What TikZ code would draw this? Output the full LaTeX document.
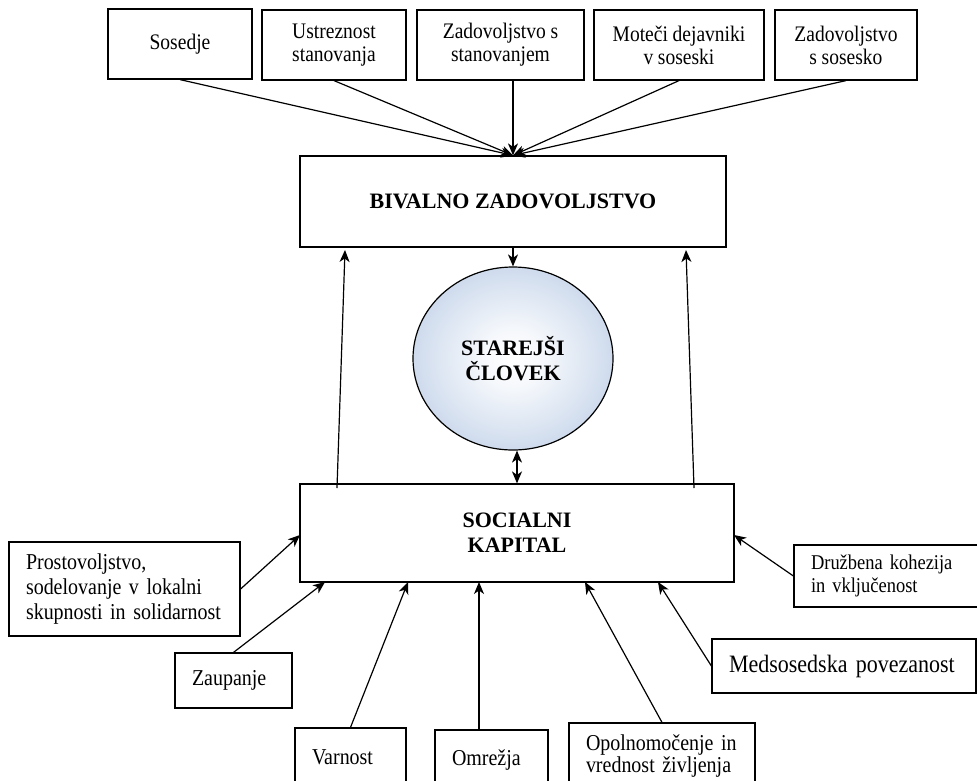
\documentclass[tikz,border=0pt]{standalone}
\usepackage{fontspec}
\setmainfont{Liberation Serif}
\newfontfamily\tallrm[FakeStretch=0.88]{Liberation Serif}
\newcommand\tallfont[2]{\tallrm\fontsize{#1}{#2}\selectfont\spaceskip=0.21em\relax}
\usetikzlibrary{arrows.meta,shapes.geometric}
\definecolor{elblue}{RGB}{190,207,231}
\pgfdeclareradialshading{elshade}{\pgfpointorigin}{color(0bp)=(white); color(8bp)=(white!85!elblue); color(32bp)=(elblue); color(50bp)=(elblue)}
\begin{document}
\begin{tikzpicture}[x=1pt,y=-1pt,
  box/.style={draw, line width=1.2pt, fill=white, inner sep=0pt, align=center, font=\tallfont{22.2}{23}},
  bigbox/.style={draw, line width=1.2pt, fill=white, inner sep=0pt, align=center, font=\fontsize{22}{25}\selectfont\bfseries},
  lbox/.style={draw, line width=1.2pt, fill=white, inner ysep=0pt, inner xsep=17pt, align=left, font=\tallfont{22.7}{25}},
  arr/.style={line width=1.2pt, -{Stealth[length=12pt,width=10pt,inset=3.5pt]}},
  darr/.style={line width=1.2pt, {Stealth[length=12pt,width=10pt,inset=3.5pt]}-{Stealth[length=12pt,width=10pt,inset=3.5pt]}}]
\useasboundingbox (0,0) rectangle (977,780);
\clip (0,0) rectangle (977,780);
\fill[white] (0,0) rectangle (977,780);

% top boxes
\node[box, minimum width=144pt, minimum height=70pt] (b1) at (180,44) {Sosedje};
\node[box, minimum width=144pt, minimum height=70pt] (b2) at (334,45) {Ustreznost\\stanovanja};
\node[box, minimum width=167pt, minimum height=70pt] (b3) at (500.5,45) {Zadovoljstvo s\\stanovanjem};
\node[box, minimum width=170pt, minimum height=70pt] (b4) at (679,45) {Moteči dejavniki\\v soseski};
\node[box, minimum width=142pt, minimum height=70pt] (b5) at (846,45) {Zadovoljstvo\\s sosesko};

% central boxes
\node[bigbox, minimum width=426pt, minimum height=91pt] (bz) at (513,201.5) {BIVALNO ZADOVOLJSTVO};
\node[ellipse, draw, line width=1.2pt, shading=elshade, minimum width=200pt, minimum height=183pt, inner sep=0pt, align=center, font=\fontsize{22}{25}\selectfont\bfseries] (ell) at (513,358.5) {STAREJŠI\\ČLOVEK};
\node[bigbox, minimum width=434pt, minimum height=98pt] (sk) at (517,533) {\rule{0pt}{4pt}SOCIALNI\\KAPITAL};

% factor boxes
\node[lbox, text width=197pt, minimum height=94pt] (pr) at (124.5,589) {Prostovoljstvo,\\sodelovanje v lokalni\\skupnosti in solidarnost};
\node[lbox, text width=83pt, minimum height=55pt] (za) at (233.5,680.5) {Zaupanje};
\node[lbox, text width=77pt, minimum height=58pt] (va) at (350.5,757) {Varnost};
\node[lbox, text width=79pt, minimum height=60pt] (om) at (491.5,760) {Omrežja};
\node[lbox, text width=152pt, minimum height=66pt, font=\tallfont{22.7}{22}] (op) at (662,756) {Opolnomočenje in\\vrednost življenja};
\node[lbox, text width=230pt, minimum height=54pt, font=\tallfont{25}{25}] (me) at (844,666) {Medsosedska povezanost};
\node[lbox, text width=166pt, minimum height=62pt, font=\tallfont{21}{22.5}] (dr) at (894,576) {Družbena kohezija\\in vključenost};

% top arrows
\draw[arr] (b1.south) -- (bz.north);
\draw[arr] (b2.south) -- (bz.north);
\draw[arr] (b3.south -| bz.north) -- (bz.north);
\draw[arr] (b4.south) -- (bz.north);
\draw[arr] (b5.south) -- (bz.north);

% center
\draw[arr] (bz.south) -- (ell.north);
\draw[darr] (ell.south -| sk.north) -- (sk.north);

% side up arrows
\coordinate (lu0) at (337,488);
\coordinate (lu1) at (345,250);
\coordinate (ru0) at (694,488);
\coordinate (ru1) at (686,250);
\draw[arr] (lu0) -- (lu1);
\draw[arr] (ru0) -- (ru1);

% inputs to social capital
\coordinate (skpr) at (300,535);
\coordinate (skza) at (325,582);
\coordinate (skva) at (408,582);
\coordinate (omt) at (479,730);
\coordinate (skom) at (479,582);
\coordinate (skop) at (585,582);
\coordinate (skme) at (658,582);
\coordinate (skdr) at (734,535);
\draw[arr] (pr.east) -- (skpr);
\draw[arr] (za.north) -- (skza);
\draw[arr] (va.north) -- (skva);
\draw[arr] (omt) -- (skom);
\draw[arr] (op.north) -- (skop);
\draw[arr] (me.west) -- (skme);
\draw[arr] (dr.west) -- (skdr);
\end{tikzpicture}
\end{document}
